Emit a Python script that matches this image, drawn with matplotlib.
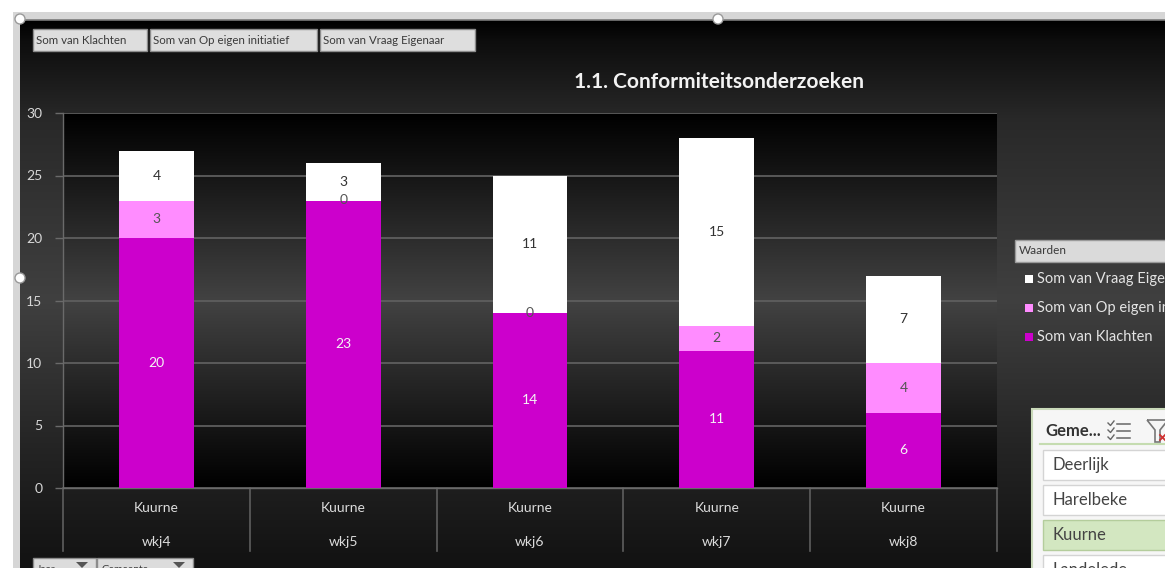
import numpy as np
import matplotlib
matplotlib.use("Agg")
import matplotlib.pyplot as plt
from matplotlib.patches import Rectangle, Circle, Polygon

plt.rcParams['font.family'] = ['Lato', 'DejaVu Sans']

# ---- data ----
regions = ["Kuurne", "Kuurne", "Kuurne", "Kuurne", "Kuurne"]
weeks = ["wkj4", "wkj5", "wkj6", "wkj7", "wkj8"]
klachten = [20, 23, 14, 11, 6]
eigen_initiatief = [3, 0, 0, 2, 4]
vraag_eigenaar = [4, 3, 11, 15, 7]
series_names = ["Som van Klachten", "Som van Op eigen initiatief", "Som van Vraag Eigenaar"]
slicer_items = ["Deerlijk", "Harelbeke", "Kuurne", "Landelede"]
selected_item = "Kuurne"
title = "1.1. Conformiteitsonderzoeken"

col_kl = '#cc00cc'
col_ei = '#ff8cff'
col_vr = '#ffffff'

W, H = 1165, 568
fig = plt.figure(figsize=(W / 100, H / 100), dpi=100, facecolor='white')

# ---- background canvas in pixel coordinates ----
bg = fig.add_axes([0, 0, 1, 1])
bg.set_xlim(0, W)
bg.set_ylim(H, 0)
bg.axis('off')

# frame borders
bg.add_patch(Rectangle((13, 12), W, 8, facecolor='#d6d6d6', edgecolor='none'))
bg.add_patch(Rectangle((13, 12), 7, H, facecolor='#d6d6d6', edgecolor='none'))
bg.plot([20, W], [19.5, 19.5], color='#7a7a7a', lw=1.2)

# chart area gradient
ys = np.arange(20, H + 1)
g = np.interp(ys, [20, 40, 120, 300, 450, 568], [0.0, 0.05, 0.16, 0.25, 0.14, 0.07])
img = np.repeat(g[:, None], 2, axis=1)
bg.imshow(np.dstack([img, img, img]), extent=[20, W, H, 20], aspect='auto',
          interpolation='bilinear', zorder=0)

# selection handles
for (hx, hy) in [(20, 19), (718, 19), (20, 278)]:
    bg.add_patch(Circle((hx, hy), 5, facecolor='white', edgecolor='#9a9a9a', lw=1, zorder=5))

# field buttons at the top
for x0, x1, lab in [(33, 147, "Som van Klachten"), (150, 317, "Som van Op eigen initiatief"),
                    (320, 475, "Som van Vraag Eigenaar")]:
    bg.add_patch(Rectangle((x0, 29), x1 - x0, 22, facecolor='#dedede', edgecolor='#8c8c8c', lw=1))
    bg.text(x0 + 3, 40, lab, fontsize=8.3, color='#3a3a3a', va='center', ha='left')

# field buttons at the bottom
for x0, x1, lab in [(33, 96, "Jaar"), (97, 193, "Gemeente")]:
    bg.add_patch(Rectangle((x0, 558), x1 - x0, 20, facecolor='#dcdcdc', edgecolor='#8c8c8c', lw=1))
    bg.text(x0 + 4, 569, lab, fontsize=7.5, color='#3a3a3a', va='center', ha='left')
    bg.add_patch(Polygon([[x1 - 20, 562], [x1 - 8, 562], [x1 - 14, 568]], closed=True,
                         facecolor='#555555', edgecolor='none'))

# title
bg.text(719, 82, title, fontsize=15, fontweight='bold', color='#f2f2f2', ha='center', va='center')

# legend
bg.add_patch(Rectangle((1015, 240), 160, 22, facecolor='#dadada', edgecolor='#9a9a9a', lw=1))
bg.text(1019, 251, "Waarden", fontsize=8.5, color='#3a3a3a', va='center', ha='left')
for yy, col, name in [(279, col_vr, series_names[2]), (308, col_ei, series_names[1]),
                      (337, col_kl, series_names[0])]:
    bg.add_patch(Rectangle((1025, yy - 4), 8, 8, facecolor=col, edgecolor='none'))
    bg.text(1037, yy, name, fontsize=10.5, color='#e4e4e4', va='center', ha='left')

# slicer panel
bg.add_patch(Rectangle((1032, 409), 150, 180, facecolor='#f6f6f6', edgecolor='#c9d9b9', lw=1.5))
bg.text(1045, 431, "Geme...", fontsize=12, fontweight='bold', color='#333333', va='center', ha='left')
# multi-select icon
for k in range(3):
    yy = 424 + k * 7
    bg.plot([1117, 1130], [yy, yy], color='#666666', lw=1.1)
    bg.plot([1108, 1110.5, 1114], [yy - 1, yy + 1.5, yy - 3], color='#666666', lw=1)
# filter icon
bg.add_patch(Polygon([[1147, 420], [1168, 420], [1160, 430], [1160, 442], [1155, 442], [1155, 430]],
                     closed=True, facecolor='none', edgecolor='#777777', lw=1.2))
bg.plot([1160, 1165], [435, 440], color='#d03030', lw=1.3)
bg.plot([1160, 1165], [440, 435], color='#d03030', lw=1.3)
bg.plot([1040, W], [444, 444], color='#c5dcb0', lw=1.5)
box_tops = [450, 485, 520, 555]
for y0, name in zip(box_tops, slicer_items):
    sel = name == selected_item
    bg.add_patch(Rectangle((1043, y0), 140, 30,
                           facecolor='#d3e7c1' if sel else '#ffffff',
                           edgecolor='#b4cd9c' if sel else '#d4d4d4', lw=1))
    bg.text(1053, y0 + 15, name, fontsize=12, color='#444444', va='center', ha='left')

# ---- plot area ----
px0, px1, py_top, py_bot = 63, 997, 113, 488
ax = fig.add_axes([px0 / W, (H - py_bot) / H, (px1 - px0) / W, (py_bot - py_top) / H])
ax.set_facecolor('black')
gp = np.interp(np.linspace(0, 1, 200), [0, 0.5, 1.0], [0.0, 0.26, 0.0])
pimg = np.repeat(gp[:, None], 2, axis=1)
ax.imshow(np.dstack([pimg, pimg, pimg]), extent=[-0.5, 4.5, 0, 30], aspect='auto',
          interpolation='bilinear', zorder=0, origin='upper')

x = np.arange(len(weeks))
bw = 0.4
kl = np.array(klachten)
ei = np.array(eigen_initiatief)
vr = np.array(vraag_eigenaar)
ax.bar(x, kl, width=bw, color=col_kl, zorder=3)
ax.bar(x, ei, width=bw, bottom=kl, color=col_ei, zorder=3)
ax.bar(x, vr, width=bw, bottom=kl + ei, color=col_vr, zorder=3)

ax.set_xlim(-0.5, 4.5)
ax.set_ylim(0, 30)
ax.set_yticks(range(0, 31, 5))
ax.grid(axis='y', color='#5e5e5e', lw=1.3, zorder=1)
ax.tick_params(axis='y', colors='#6a6a6a', labelcolor='#d8d8d8', labelsize=10, length=6, width=1, pad=9)
ax.tick_params(axis='x', bottom=False, labelbottom=False)
for s in ['top', 'right']:
    ax.spines[s].set_visible(False)
ax.spines['left'].set_color('#6a6a6a')
ax.spines['bottom'].set_color('#6a6a6a')
ax.spines['left'].set_linewidth(1)
ax.spines['bottom'].set_linewidth(1)

# data labels
for i in x:
    ax.text(i, kl[i] / 2, str(kl[i]), color='#f4f4f4', fontsize=10, ha='center', va='center', zorder=4)
    ax.text(i, kl[i] + ei[i] / 2, str(ei[i]), color='#555555', fontsize=10, ha='center', va='center', zorder=4)
    ax.text(i, kl[i] + ei[i] + vr[i] / 2, str(vr[i]), color='#333333', fontsize=10, ha='center', va='center', zorder=4)

# two-level category axis
tr = ax.get_xaxis_transform()
h_ax = py_bot - py_top
for i in x:
    ax.text(i, -(508 - py_bot) / h_ax, regions[i], transform=tr, color='#dcdcdc', fontsize=10,
            ha='center', va='center', clip_on=False)
    ax.text(i, -(542 - py_bot) / h_ax, weeks[i], transform=tr, color='#dcdcdc', fontsize=10,
            ha='center', va='center', clip_on=False)
for b in np.arange(-0.5, 5, 1):
    ax.plot([b, b], [0, -(551 - py_bot) / h_ax], transform=tr, color='#5e5e5e', lw=1.2, clip_on=False)

fig.savefig("out.png", dpi=100, facecolor='white')
